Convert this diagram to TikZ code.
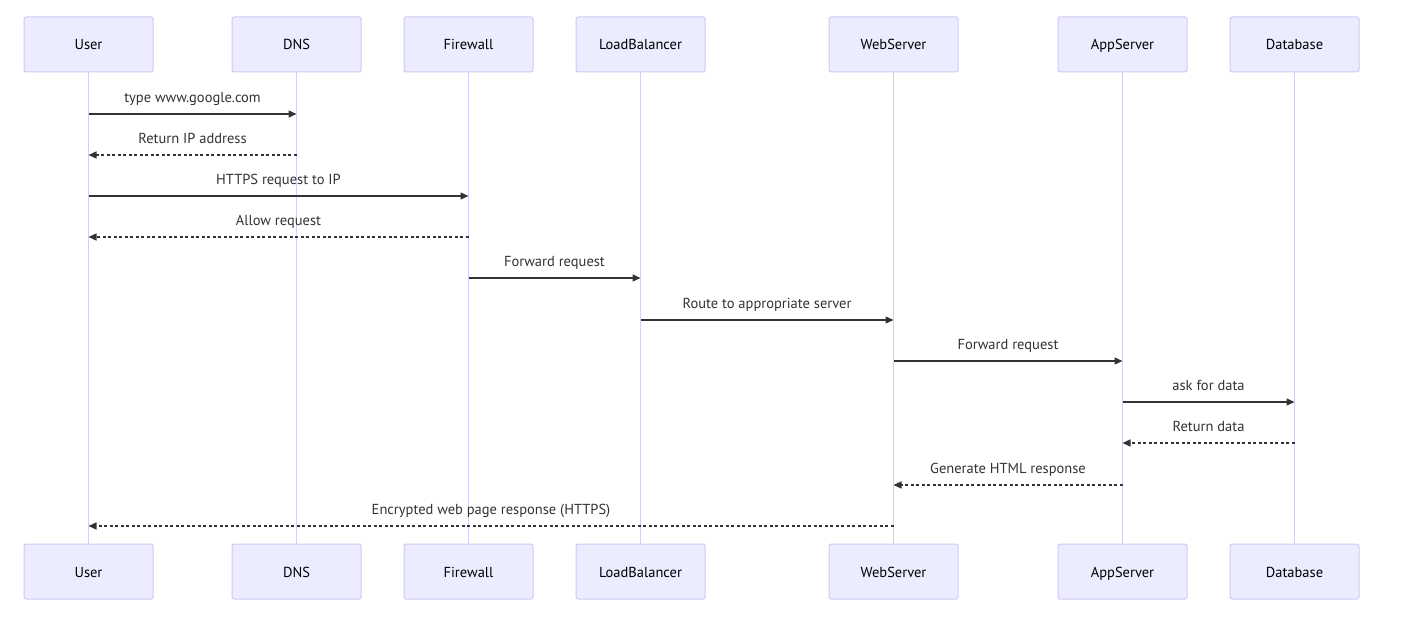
\documentclass[tikz,border=0pt]{standalone}
\usepackage{fontspec}
\setmainfont{PT Sans}
\usetikzlibrary{arrows.meta}
\definecolor{actfill}{HTML}{ECECFF}
\definecolor{actline}{HTML}{D3C8F5}
\definecolor{lifeline}{HTML}{D8CCF5}
\definecolor{txt}{HTML}{333333}
\begin{document}
\begin{tikzpicture}[x=1pt,y=-1pt,
  actor/.style={draw=actline,fill=actfill,line width=1pt,rounded corners=2pt,
    minimum width=129pt,minimum height=55pt,inner sep=0pt,
    text height=14pt,text depth=3pt,
    font=\fontsize{14.5}{16}\selectfont,text=black},
  life/.style={draw=lifeline,line width=1.8pt},
  msg/.style={draw=txt,line width=1.3pt,-{Triangle[length=8pt,width=7pt]}},
  reply/.style={msg,dash pattern=on 3pt off 2.5pt},
  lbl/.style={font=\fontsize{14.5}{16}\selectfont,text=txt,inner sep=0pt,
    text height=10pt,text depth=3.5pt}]
\useasboundingbox (0,0) rectangle (1407,620);
\fill[white] (0,0) rectangle (1407,620);
% lifelines
\foreach \n/\x in {u/88.5,d/296.5,f/468.5,l/640.5,w/893.5,a/1122.5,b/1294.5}{
  \coordinate (\n t) at (\x,72);
  \coordinate (\n b) at (\x,544);
  \draw[life] (\n t) -- (\n b);
}
% actors
\foreach \n/\x/\t in {u/88.5/User,d/296.5/DNS,f/468.5/Firewall,l/640.5/LoadBalancer,w/893.5/WebServer,a/1122.5/AppServer,b/1294.5/Database}{
  \node[actor] (\n top) at (\x,44.5) {\t};
  \node[actor] (\n bot) at (\x,571.5) {\t};
}
% message coordinates
\foreach \n/\x in {u/88.5,d/296.5,f/468.5,l/640.5,w/893.5,a/1122.5,b/1294.5}{
  \foreach \i/\y in {1/114,2/155,3/196,4/237,5/278,6/320,7/361,8/402,9/443,10/485,11/526}{
    \coordinate (\n\i) at (\x,\y);
  }
}
\draw[msg] (u1) -- (d1) node[lbl,midway,above=7pt] {type www.google.com};
\draw[reply] (d2) -- (u2) node[lbl,midway,above=7pt] {Return IP address};
\draw[msg] (u3) -- (f3) node[lbl,midway,above=7pt] {HTTPS request to IP};
\draw[reply] (f4) -- (u4) node[lbl,midway,above=7pt] {Allow request};
\draw[msg] (f5) -- (l5) node[lbl,midway,above=7pt] {Forward request};
\draw[msg] (l6) -- (w6) node[lbl,midway,above=7pt] {Route to appropriate server};
\draw[msg] (w7) -- (a7) node[lbl,midway,above=7pt] {Forward request};
\draw[msg] (a8) -- (b8) node[lbl,midway,above=7pt] {ask for data};
\draw[reply] (b9) -- (a9) node[lbl,midway,above=7pt] {Return data};
\draw[reply] (a10) -- (w10) node[lbl,midway,above=7pt] {Generate HTML response};
\draw[reply] (w11) -- (u11) node[lbl,midway,above=7pt] {Encrypted web page response (HTTPS)};
\end{tikzpicture}
\end{document}
